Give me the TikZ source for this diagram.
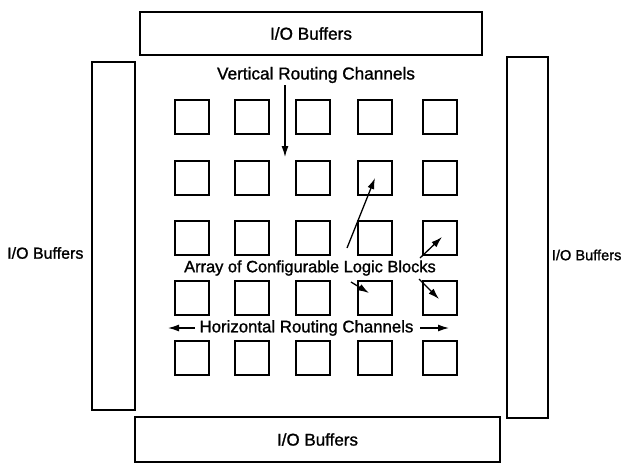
\documentclass[tikz,border=0pt]{standalone}
\usepackage{fontspec}
\setmainfont{Liberation Sans}[FakeBold=1.2]
\usetikzlibrary{arrows.meta}
\begin{document}
\begin{tikzpicture}[x=1pt,y=-1pt,
  line width=1.2pt,
  buf/.style={draw,line width=1.2pt},
  clb/.style={draw,line width=1.2pt,minimum width=34pt,minimum height=34pt,inner sep=0pt},
  lbl/.style={font=\fontsize{16.8}{19}\selectfont,inner sep=0pt},
  arr/.style={-{Latex[length=11pt,width=7pt]},line width=1.3pt}]
\useasboundingbox (0,0) rectangle (625,467);
% I/O buffers
\node[buf,minimum width=342pt,minimum height=43pt,inner sep=0pt] (top) at (311,33.5) {};
\node[lbl,font=\fontsize{17.2}{19}\selectfont] at (top.center) {I/O Buffers};
\node[buf,minimum width=365pt,minimum height=45pt,inner sep=0pt] (bot) at (317.5,439.5) {};
\node[lbl,font=\fontsize{17}{19}\selectfont] at (bot.center) {I/O Buffers};
\node[buf,minimum width=43pt,minimum height=348pt,inner sep=0pt] (left) at (113.5,236) {};
\node[lbl,font=\fontsize{16}{19}\selectfont,anchor=east] at (84,253) {I/O Buffers};
\node[buf,minimum width=41pt,minimum height=361pt,inner sep=0pt] (right) at (527.5,237.5) {};
\node[lbl,font=\fontsize{14.6}{17}\selectfont,anchor=east] at (622,255) {I/O Buffers};
% CLB array
\foreach \r/\y in {1/117,2/178,3/238,4/298,5/358}{
  \foreach \c/\x in {1/192,2/252,3/313,4/375,5/440}{
    \node[clb] (b\r\c) at (\x,\y) {};
  }
}
% labels
\node[lbl,font=\fontsize{17.2}{19}\selectfont] (vrc) at (316,75) {Vertical Routing Channels};
\coordinate (vend) at (285,157);
\draw[arr] (285,85) -- (vend);
\node[lbl,font=\fontsize{16.4}{19}\selectfont] (aclb) at (310,268) {Array of Configurable Logic Blocks};
\coordinate (a1s) at (347,248);
\coordinate (a2s) at (420,258);
\coordinate (a3s) at (351,282);
\coordinate (a4s) at (419,279);
\draw[arr] (a1s) -- (b24.center);
\draw[arr] (a2s) -- ([xshift=2pt,yshift=1pt]b35.center);
\draw[arr] (a3s) -- ([xshift=-6pt,yshift=5pt]b44.center);
\draw[arr] (a4s) -- ([xshift=-1pt,yshift=-1pt]b45.center);
\node[lbl] (hrc) at (306.5,328) {Horizontal Routing Channels};
\coordinate (hl) at (168,328);
\coordinate (hr) at (449,328);
\draw[arr] (hrc.west)++(-4pt,0) -- (hl);
\draw[arr] (hrc.east)++(6pt,0) -- (hr);
\end{tikzpicture}
\end{document}
